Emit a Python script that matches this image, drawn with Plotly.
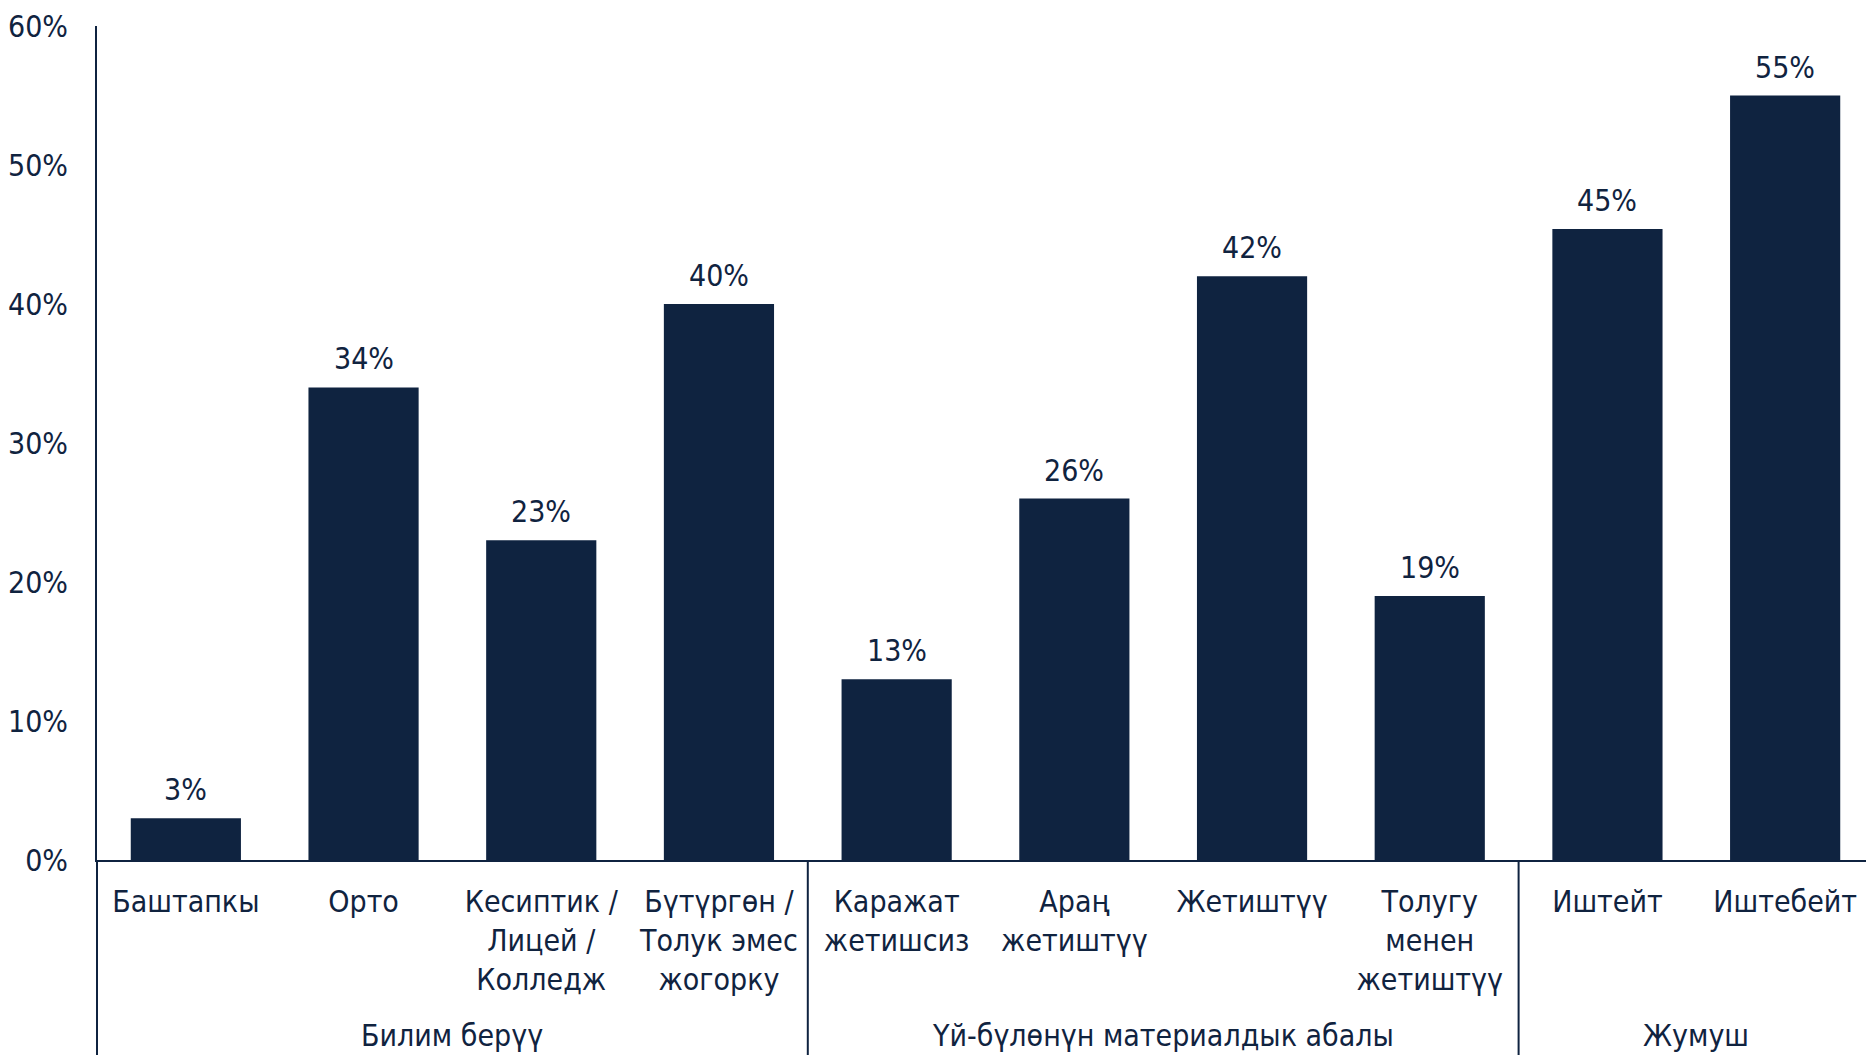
import plotly.graph_objects as go

# данные
categories = [
    "Баштапкы", "Орто", "Кесиптик /<br>Лицей /<br>Колледж",
    "Бүтүргөн /<br>Толук эмес<br>жогорку",
    "Каражат<br>жетишсиз", "Араң<br>жетиштүү", "Жетиштүү",
    "Толугу<br>менен<br>жетиштүү",
    "Иштейт", "Иштебейт",
]
values = [3, 34, 23, 40, 13, 26, 42, 19, 45.4, 55]
groups = ["Билим берүү", "Үй-бүлөнүн материалдык абалы", "Жумуш"]
group_sizes = [4, 4, 2]
y_ticks = [0, 10, 20, 30, 40, 50, 60]

NAVY = "#0f2340"
TEXT = "#10233f"
FONT = "DejaVu Sans Condensed, Liberation Sans Narrow, sans-serif"
FS = 30

n = len(categories)
x_idx = list(range(n))

fig = go.Figure()
fig.add_trace(go.Bar(
    x=x_idx, y=values,
    marker=dict(color=NAVY, line=dict(width=0)),
    width=0.62, hoverinfo="x+y",
))

annotations = []
# подписи значений над столбцами
for i, v in zip(x_idx, values):
    annotations.append(dict(
        x=i, y=v, xref="x", yref="y", text=f"{v:.0f}%",
        showarrow=False, yanchor="bottom", yshift=9,
        font=dict(size=FS, color=TEXT, family=FONT),
    ))

# линии-разделители групп и подписи групп
shapes = []
start = 0
for name, size in zip(groups, group_sizes):
    end = start + size
    mid = (start + end - 1) / 2
    annotations.append(dict(
        x=mid, xref="x", y=-0.21, yref="paper", text=name,
        showarrow=False, yanchor="middle",
        font=dict(size=FS, color=TEXT, family=FONT),
    ))
    if end < n:
        xp = end / n
        shapes.append(dict(type="line", xref="paper", yref="paper",
                           x0=xp, x1=xp, y0=0, y1=-0.24,
                           line=dict(color=NAVY, width=2)))
    start = end

# продолжение оси Y вниз
shapes.append(dict(type="line", xref="paper", yref="paper",
                   x0=0, x1=0, y0=0, y1=-0.24,
                   line=dict(color=NAVY, width=2)))

fig.update_layout(
    width=1866, height=1047,
    margin=dict(l=83, r=0, t=18, b=195),
    plot_bgcolor="white", paper_bgcolor="white",
    showlegend=False,
    font=dict(family=FONT, color=TEXT, size=FS),
    shapes=shapes, annotations=annotations,
    xaxis=dict(
        range=[-0.5, n - 0.5], tickvals=x_idx, ticktext=categories,
        showline=True, linecolor=NAVY, linewidth=2, ticks="",
        showgrid=False, zeroline=False, tickangle=0,
        ticklabelstandoff=14,
        tickfont=dict(size=FS, color=TEXT, family=FONT),
    ),
    yaxis=dict(
        range=[0, 60], tickvals=y_ticks,
        ticktext=[f"{t}%" for t in y_ticks],
        showline=True, linecolor=NAVY, linewidth=2, ticks="",
        showgrid=False, zeroline=False,
        ticklabelstandoff=21,
        tickfont=dict(size=FS, color=TEXT, family=FONT),
    ),
)

fig.write_html("out.html")
